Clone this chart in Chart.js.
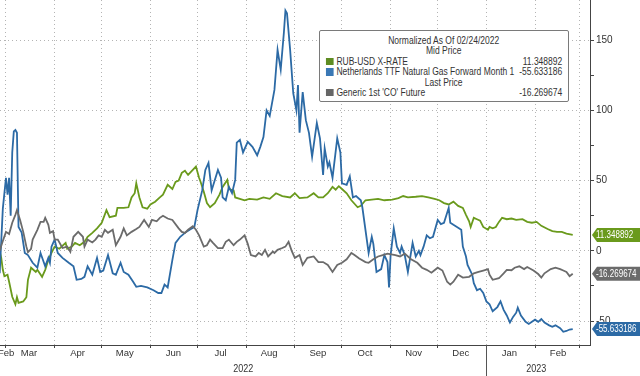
<!DOCTYPE html>
<html>
<head>
<meta charset="utf-8">
<script src="https://cdn.jsdelivr.net/npm/chart.js@4.4.0/dist/chart.umd.min.js"></script>
<style>
html, body { margin: 0; padding: 0; background: #fff; }
#wrap { position: relative; width: 640px; height: 376px; }
#legend {
    position: absolute; left: 319px; top: 30px; width: 250px; height: 72px;
    box-sizing: border-box; border: 1px solid #7a7a7a; border-radius: 2px;
    background: #fff; padding-top: 5px; overflow: hidden;
    font: 10px 'Liberation Sans', Arial, sans-serif;
    color: #333;
}
/* the original uses a narrow face; squeeze the regular one to the same width */
#legend .inner { width: 291px; transform: scaleX(0.85); transform-origin: 0 0; }
#legend .row { position: relative; height: 10.4px; line-height: 10.4px; white-space: nowrap; }
#legend .c { text-align: center; }
#legend .sw { display: inline-block; width: 8.8px; height: 7.5px; margin: 0 3.5px 0 7px; vertical-align: -0.5px; }
#legend .v { position: absolute; right: 6px; top: 0; }
</style>
</head>
<body>
<div id="wrap">
    <canvas id="chart" width="640" height="376"></canvas>
    <div id="legend"><div class="inner">
        <div class="row c">Normalized As Of 02/24/2022</div>
        <div class="row c">Mid Price</div>
        <div class="row"><span class="sw" style="background:#5e8c22"></span>RUB-USD X-RATE<span class="v">11.348892</span></div>
        <div class="row"><span class="sw" style="background:#3a78b5"></span>Netherlands TTF Natural Gas Forward Month 1<span class="v">-55.633186</span></div>
        <div class="row c">Last Price</div>
        <div class="row"><span class="sw" style="background:#666"></span>Generic 1st 'CO' Future<span class="v">-16.269674</span></div>
    </div></div>
</div>
<script>
// x values are days counted from 2022-02-24 (the normalisation date)
var rub = [[1,0],[2,-5],[3,-13.5],[4,-18],[6,-17],[7,-22],[9,-32.7],[11,-38],[12,-33],[13,-37],[16,-36],[18,-33],[19,-20.6],[21,-12],[24,-15],[25,-13.5],[28,-18.5],[30,-13.5],[32,-6.4],[34,-1.5],[36,3],[39,1.5],[43,5.7],[44,1.5],[47,3],[49,5.7],[52,4],[55,6.4],[57,10],[60,12.8],[63,16],[66,20],[69,29],[71,24],[75,25],[76,30.6],[80,30.6],[83,31],[85,38],[87,41],[88,48],[90,38],[92,31],[95,30],[97,33],[100,35],[103,38],[105,40],[108,47],[111,44],[113,49],[115,50],[117,55.5],[119,57],[121,54],[124,57.6],[126,60],[128,52],[129,49],[131,42],[133,34],[135,31],[138,34],[141,40],[143,45.5],[146,50.5],[147,44],[150,43],[151,38],[154,37],[157,36],[160,37],[165,36.5],[169,38],[173,37],[177,41],[181,39],[186,38],[189,41],[192,37.5],[197,38],[201,41],[204,38],[207,38],[210,41],[213,45.5],[215,43.5],[217,46],[219,44],[222,41],[225,36],[229,31],[231,32],[234,36],[238,36.5],[242,37],[246,36],[251,36.5],[255,37.5],[258,39],[261,38],[266,38.5],[270,39],[274,38],[278,37],[281,36],[284,34],[287,33],[290,35],[293,32],[296,30.6],[298,25.6],[300,21],[301,17],[303,23.5],[305,22.5],[307,21.5],[309,17],[312,15],[313,17],[315,16],[317,17],[319,20.6],[321,23.5],[324,22.5],[327,23],[330,22],[334,22.5],[337,20.6],[340,20],[343,20.6],[346,17.8],[350,15.5],[353,14],[356,13.5],[359,13.5],[362,12.2],[366,11.348892]];

var ttf = [[1,-16],[3,30],[5,52],[6,40],[7,52],[8,25],[9,70],[10,85],[11,86],[12,84],[13,17],[15,13],[17,-1.5],[19,-3],[22,-8.5],[25,-12],[27,-1.5],[30,-11],[32,-5],[33,-8.5],[34,3],[36,8],[38,-1.5],[41,-5],[45,-8.5],[48,-11],[50,-20.6],[53,-20],[55,-18.5],[57,-11],[60,-17],[63,-5],[65,-15],[67,-14],[70,-3],[73,-16],[75,-17],[78,-8.5],[80,-15],[83,-17],[86,-22],[88,-25.6],[91,-25],[95,-26],[99,-28],[102,-30],[104,-30],[106,-24],[108,-26],[111,-6.4],[113,5.7],[116,10],[119,12.8],[122,15],[125,17],[127,29],[130,43],[132,57.6],[134,62.6],[136,43],[140,57.6],[142,52],[143,38],[145,36],[147,45.5],[149,41],[151,50.5],[152,77],[154,79],[156,70],[159,77.5],[162,74],[165,68],[167,74],[169,81],[171,100],[173,96],[176,114.5],[178,143],[180,129],[182,155],[183,171],[184,169],[186,143],[188,112],[190,100],[191,118],[192,84],[194,113],[196,93],[198,84],[200,67],[203,91],[205,80],[207,54],[208,73],[210,60],[211,63],[213,52],[216,80],[218,70],[219,48],[222,47],[224,53],[226,38],[228,39],[231,36],[232,31],[236,-1.5],[238,10],[239,5],[241,-15],[244,-13],[246,-3],[248,-8],[249,-26],[250,-3],[252,16],[254,3],[256,-1.5],[257,3],[259,-3],[261,-15],[264,5.7],[266,-4],[268,0],[269,-3],[271,3],[273,11],[275,9],[277,10],[280,22],[282,19],[284,20],[287,30.6],[288,20],[290,18.5],[293,16.5],[295,15],[296,3],[298,-4],[299,-10],[302,-17],[303,-23],[305,-28],[307,-27],[309,-30],[311,-36],[313,-38],[315,-43],[318,-40],[320,-36],[322,-42],[324,-46],[326,-51],[328,-47],[330,-44],[331,-40.5],[333,-46],[336,-50.5],[338,-52],[340,-50.5],[342,-49],[344,-50.5],[346,-48.5],[348,-51],[351,-53],[353,-54],[355,-53],[358,-55],[360,-57.6],[362,-57],[364,-56],[366,-55.633186]];

var brent = [[1,0],[3,7],[5,13.5],[7,12],[9,20],[11,25.6],[12,29],[14,22],[16,13.5],[18,3],[19,-1],[21,1.5],[22,8],[25,15],[27,20.6],[29,20.6],[30,23.5],[32,18.5],[33,12.8],[35,14],[36,8],[38,8],[41,2],[44,3],[46,-0.7],[48,10],[51,13.5],[54,10],[55,3],[57,8],[60,6],[62,8],[64,11],[66,10],[68,15],[70,12.8],[73,15],[75,4],[78,10],[80,16],[82,11],[85,13.5],[88,15.5],[90,17],[93,22],[96,17],[98,22],[101,21],[103,23.5],[105,25],[108,23],[111,22],[115,16],[117,13.5],[119,12.8],[121,15],[124,17.5],[126,15],[128,11],[131,3],[133,4],[135,8],[137,5.5],[140,2],[143,2],[145,6.4],[147,8],[150,4],[152,6.4],[154,8],[157,11],[159,5],[161,-3],[164,-4],[166,-1.5],[168,-3],[170,0.7],[172,-4],[175,-0.5],[176,-1.5],[178,0.7],[181,2],[183,3],[185,6.4],[187,0],[189,-5],[192,-3],[194,-10],[197,-5],[201,-4],[204,-8],[207,-8],[210,-10],[213,-15],[216,-10],[219,-8.5],[222,-6],[225,-1.5],[227,-3],[230,-5.5],[234,-8],[236,-8.5],[239,-6],[242,-4],[245,-3],[248,-2],[253,-3],[256,-4],[259,-2],[263,-6],[267,-8.5],[270,-12],[273,-13.5],[276,-15.6],[280,-12],[283,-14],[286,-22],[288,-24],[290,-22],[293,-17],[296,-19],[300,-18.5],[303,-16],[306,-15],[309,-14],[312,-13],[313,-17],[315,-20.6],[319,-19.5],[322,-16],[324,-13.5],[327,-13.8],[329,-12],[332,-11],[335,-13],[337,-11.5],[341,-14],[344,-16.5],[346,-19],[348,-16],[352,-13],[355,-12],[358,-13],[360,-14],[362,-15],[364,-18],[366,-16.269674]];

// first day of each month (Feb label sits in the visible sliver before Mar 1)
var monthTickDays = [-9.5, 5, 36, 66, 97, 127, 158, 189, 219, 250, 280, 311, 342, 370];
var monthTickLabels = ['Feb', 'Mar', 'Apr', 'May', 'Jun', 'Jul', 'Aug', 'Sep', 'Oct', 'Nov', 'Dec', 'Jan', 'Feb', ''];
var yearStartDay = 311;
var yearLabels = ['2022', '2023'];
var yTicks = [-50, -25, 0, 25, 50, 75, 100, 125, 150];

var lastValues = [
    { text: '11.348892', value: 11.348892, color: '#6a9a1c' },
    { text: '-16.269674', value: -16.269674, color: '#6b6b6b' },
    { text: '-55.633186', value: -55.633186, color: '#2c6aa5' }
];

var FONT = "'Liberation Sans', Arial, sans-serif";
Chart.defaults.font.family = FONT;
Chart.defaults.font.size = 10;
Chart.defaults.color = '#333';

function toPoints(arr) {
    return arr.map(function (p) { return { x: p[0], y: p[1] }; });
}

// narrow text, like the terminal font
function squeezeText(ctx, text, x, y, sx) {
    ctx.save();
    ctx.translate(x, y);
    ctx.scale(sx, 1);
    ctx.fillText(text, 0, 0);
    ctx.restore();
}

var extras = {
    id: 'extras',
    afterDraw: function (chart) {
        var ctx = chart.ctx;
        var xs = chart.scales.x, ys = chart.scales.y;
        var area = chart.chartArea;
        var sep = xs.getPixelForValue(yearStartDay);

        ctx.save();
        // year separator and year names
        ctx.strokeStyle = '#555';
        ctx.lineWidth = 1;
        ctx.beginPath();
        ctx.moveTo(Math.round(sep) + 0.5, area.bottom);
        ctx.lineTo(Math.round(sep) + 0.5, chart.height);
        ctx.stroke();
        ctx.fillStyle = '#333';
        ctx.font = '10px ' + FONT;
        ctx.textAlign = 'center';
        ctx.textBaseline = 'middle';
        squeezeText(ctx, yearLabels[0], (area.left + sep) / 2, 369, 0.9);
        squeezeText(ctx, yearLabels[1], (sep + area.right) / 2 - 2, 369, 0.9);

        // last value tags on the right axis
        ctx.textAlign = 'left';
        lastValues.forEach(function (lv) {
            var y = ys.getPixelForValue(lv.value);
            var x0 = area.right + 2;
            ctx.fillStyle = lv.color;
            ctx.beginPath();
            ctx.moveTo(x0, y);
            ctx.lineTo(x0 + 5, y - 7);
            ctx.lineTo(chart.width, y - 7);
            ctx.lineTo(chart.width, y + 7);
            ctx.lineTo(x0 + 5, y + 7);
            ctx.closePath();
            ctx.fill();
            ctx.fillStyle = '#fff';
            squeezeText(ctx, lv.text, x0 + 4, y + 0.5, 0.8);
        });
        ctx.restore();
    }
};

new Chart(document.getElementById('chart'), {
    type: 'line',
    data: {
        datasets: [
            {
                label: 'RUB-USD X-RATE',
                data: toPoints(rub),
                borderColor: '#6a9a1c',
                borderWidth: 1.8,
                pointRadius: 0,
                order: 3
            },
            {
                label: 'Netherlands TTF Natural Gas Forward Month 1',
                data: toPoints(ttf),
                borderColor: '#2c6aa5',
                borderWidth: 1.8,
                pointRadius: 0,
                order: 2
            },
            {
                label: "Generic 1st 'CO' Future",
                data: toPoints(brent),
                borderColor: '#6b6b6b',
                borderWidth: 1.8,
                pointRadius: 0,
                order: 1
            }
        ]
    },
    options: {
        responsive: false,
        animation: false,
        layout: { padding: 0 },
        plugins: { legend: { display: false }, tooltip: { enabled: false } },
        scales: {
            x: {
                type: 'linear',
                min: 1.2,
                max: 377,
                afterBuildTicks: function (s) {
                    s.ticks = monthTickDays.map(function (d) { return { value: d }; });
                },
                afterFit: function (s) {
                    s.height = 31;
                    s.paddingLeft = 0;
                    s.paddingRight = 0;
                },
                ticks: {
                    autoSkip: false,
                    maxRotation: 0,
                    labelOffset: 23,
                    padding: 0,
                    font: { size: 9.5 },
                    callback: function (v, i) { return monthTickLabels[i]; }
                },
                grid: {
                    color: '#b4b4b4',
                    tickColor: '#444',
                    tickLength: 3
                },
                border: { display: true, color: '#444', dash: [1, 3] }
            },
            y: {
                position: 'right',
                min: -67,
                max: 178.5,
                afterBuildTicks: function (s) {
                    s.ticks = yTicks.map(function (v) { return { value: v }; });
                },
                afterFit: function (s) {
                    s.width = 50;
                    s.paddingTop = 0;
                    s.paddingBottom = 0;
                },
                ticks: {
                    padding: 2,
                    font: { size: 10 },
                    callback: function (v) { return v % 50 === 0 ? String(v) : ''; }
                },
                grid: {
                    color: function (c) {
                        return c.tick && c.tick.value % 50 === 0 ? '#b4b4b4' : 'rgba(0,0,0,0)';
                    },
                    tickColor: '#444',
                    tickLength: 4
                },
                border: { display: true, color: '#444', dash: [1, 3] }
            }
        }
    },
    plugins: [extras]
});
</script>
</body>
</html>
